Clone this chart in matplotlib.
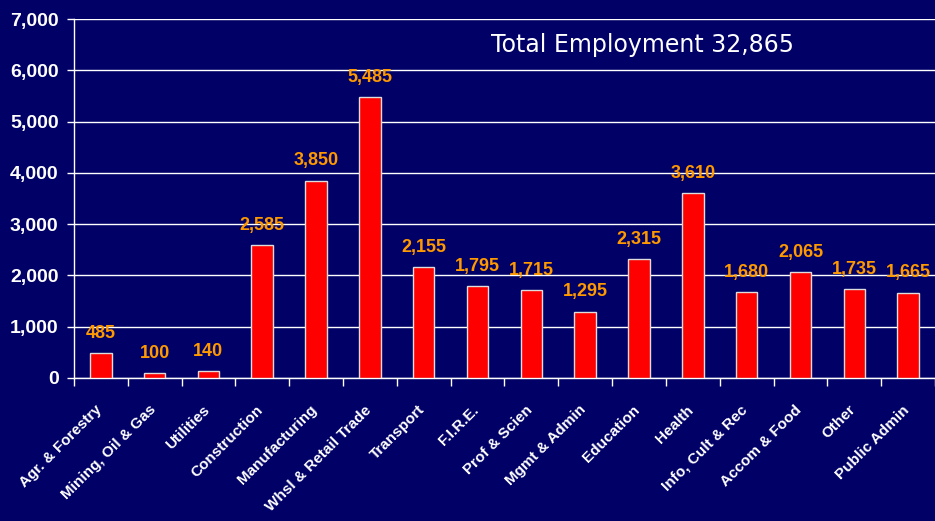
import matplotlib.pyplot as plt
from matplotlib.ticker import FuncFormatter, MultipleLocator
from matplotlib.transforms import ScaledTranslation
import numpy as np

# Employment by industry
industries = ['Agr. & Forestry', 'Mining, Oil & Gas', 'Utilities', 'Construction',
              'Manufacturing', 'Whsl & Retail Trade', 'Transport', 'F.I.R.E.',
              'Prof & Scien', 'Mgmt & Admin', 'Education', 'Health',
              'Info, Cult & Rec', 'Accom & Food', 'Other', 'Public Admin']
jobs = [485, 100, 140, 2585, 3850, 5485, 2155, 1795,
        1715, 1295, 2315, 3610, 1680, 2065, 1735, 1665]
total_jobs = 32865

BG = '#000066'
BAR = '#FF0000'
LABEL = '#FF9900'

plt.rcParams['font.family'] = ['Liberation Sans', 'DejaVu Sans']

fig = plt.figure(figsize=(9.35, 5.21), dpi=100, facecolor=BG)
ax = fig.add_axes([0.079, 0.2745, 0.921, 0.689])
ax.set_facecolor(BG)

x = np.arange(len(industries))
ax.bar(x, jobs, width=0.4, color=BAR, edgecolor='#DDDDDD', linewidth=1, zorder=3)

for xi, v in zip(x, jobs):
    ax.annotate(f'{v:,}', (xi, v), xytext=(0, 8), textcoords='offset points',
                ha='center', va='bottom', color=LABEL, fontsize=13,
                fontweight='bold', zorder=4)

ax.set_xlim(-0.5, len(industries) - 0.5)
ax.set_ylim(0, 7000)
ax.yaxis.set_major_locator(MultipleLocator(1000))
ax.yaxis.set_major_formatter(FuncFormatter(lambda v, p: f'{int(v):,}'))
ax.grid(axis='y', color='white', linewidth=1, zorder=1)

# category labels on major ticks, separators on minor ticks
ax.set_xticks(x)
ax.set_xticklabels(industries, rotation=45, ha='right', rotation_mode='anchor')
ax.set_xticks(np.arange(-0.5, len(industries)), minor=True)
ax.tick_params(axis='x', which='major', length=0, pad=20, labelcolor='white',
               labelsize=11)
ax.tick_params(axis='x', which='minor', length=6, color='white', width=1)
ax.tick_params(axis='y', length=5, color='white', width=1, labelcolor='white',
               labelsize=14, pad=6)
shift = ScaledTranslation(-0.06, 0.03, fig.dpi_scale_trans)
for lab in ax.get_xticklabels():
    lab.set_fontweight('bold')
    lab.set_transform(lab.get_transform() + shift)
for lab in ax.get_yticklabels():
    lab.set_fontweight('bold')

for side in ['top', 'right']:
    ax.spines[side].set_visible(False)
for side in ['left', 'bottom']:
    ax.spines[side].set_color('white')
    ax.spines[side].set_linewidth(1)

ax.text(0.66, 0.928, f'Total Employment {total_jobs:,}', transform=ax.transAxes,
        ha='center', va='center', color='white', fontsize=17,
        family=['DejaVu Sans'])

fig.savefig('out.png', dpi=100, facecolor=BG)
